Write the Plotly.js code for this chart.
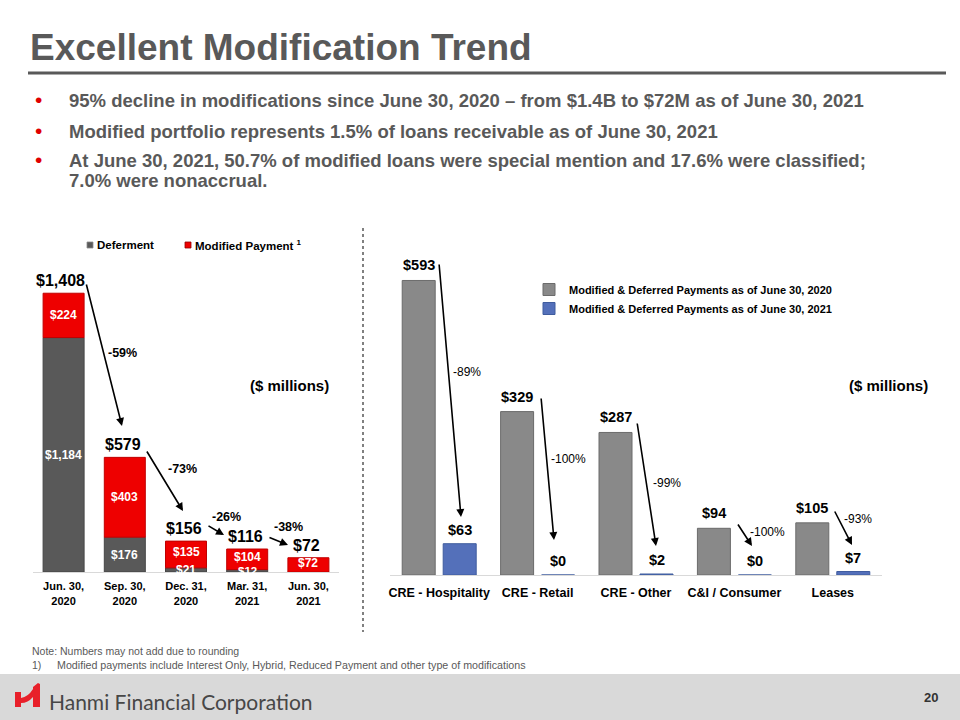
<!DOCTYPE html>
<html>
<head>
<meta charset="utf-8">
<script src="https://cdn.plot.ly/plotly-3.0.1.min.js"></script>
<style>
html,body{margin:0;padding:0;background:#fff;}
#chart{width:960px;height:720px;}
</style>
</head>
<body>
<div id="chart"></div>
<script>
// ---------- data ----------
const periods = ['Jun. 30,<br>2020', 'Sep. 30,<br>2020', 'Dec. 31,<br>2020', 'Mar. 31,<br>2021', 'Jun. 30,<br>2021'];
const deferment = [1184, 176, 21, 12, 0];
const modifiedPayment = [224, 403, 135, 104, 72];
const periodTotals = [1408, 579, 156, 116, 72];
const periodChanges = ['-59%', '-73%', '-26%', '-38%'];

const segments = ['CRE - Hospitality', 'CRE - Retail', 'CRE - Other', 'C&I / Consumer', 'Leases'];
const balance2020 = [593, 329, 287, 94, 105];
const balance2021 = [63, 0, 2, 0, 7];
const segmentChanges = ['-89%', '-100%', '-99%', '-100%', '-93%'];

const bullets = [
  '95% decline in modifications since June 30, 2020 \u2013 from $1.4B to $72M as of June 30, 2021',
  'Modified portfolio represents 1.5% of loans receivable as of June 30, 2021',
  'At June 30, 2021, 50.7% of modified loans were special mention and 17.6% were classified;<br>7.0% were nonaccrual.'
];

// ---------- helpers ----------
const W = 960, H = 720;
const X = p => p / W;
const Y = p => 1 - p / H;
const FONT = 'Liberation Sans, Arial, sans-serif';
const fmt = v => '$' + v.toLocaleString('en-US');

const GRAY_L = '#595959', RED = '#EE0000', GRAY_R = '#898989', BLUE = '#5470BA';

// ---------- traces ----------
const traces = [
  {
    type: 'bar', x: periods, y: deferment, name: 'Deferment',
    xaxis: 'x', yaxis: 'y', width: 0.67, offset: -0.335,
    marker: {color: GRAY_L, line: {color: '#454545', width: 1}},
    showlegend: false, hoverinfo: 'skip'
  },
  {
    type: 'bar', x: periods, y: modifiedPayment, base: deferment, name: 'Modified Payment',
    xaxis: 'x', yaxis: 'y', width: 0.67, offset: -0.335,
    marker: {color: RED, line: {color: '#C00000', width: 1}},
    showlegend: false, hoverinfo: 'skip'
  },
  {
    type: 'bar', x: segments, y: balance2020, name: 'Modified & Deferred Payments as of June 30, 2020',
    xaxis: 'x2', yaxis: 'y2',
    marker: {color: GRAY_R, line: {color: '#6B6B6B', width: 1}},
    hoverinfo: 'skip'
  },
  {
    type: 'bar', x: segments, y: balance2021, name: 'Modified & Deferred Payments as of June 30, 2021',
    xaxis: 'x2', yaxis: 'y2',
    marker: {color: BLUE, line: {color: '#3F5C9E', width: 1}},
    hoverinfo: 'skip'
  }
];

// ---------- annotations ----------
const ann = [];
function note(x, y, text, size, o) {
  o = o || {};
  ann.push(Object.assign({
    xref: 'paper', yref: 'paper', x: X(x), y: Y(y), text: text, showarrow: false,
    xanchor: 'center', yanchor: 'middle'
  }, o, {font: Object.assign({family: FONT, size: size, color: '#000', weight: 'bold'}, o.font || {})}));
}
function arrow(x0, y0, x1, y1) {
  ann.push({
    xref: 'paper', yref: 'paper', x: X(x1), y: Y(y1), axref: 'pixel', ayref: 'pixel',
    ax: x0 - x1, ay: y0 - y1, text: '', showarrow: true,
    arrowhead: 2, arrowsize: 1, arrowwidth: 1.6, arrowcolor: '#000', standoff: 0
  });
}

// bullets (each line placed on its own row)
const bulletY = [101, 131, 160];
const lineStep = 20;
bullets.forEach((b, i) => {
  note(38, bulletY[i] - 1, '\u2022', 21, {font: {color: '#E00000', weight: 'normal'}});
  b.split('<br>').forEach((line, j) => {
    note(67, bulletY[i] + j * lineStep, line, 18.5, {xanchor: 'left', align: 'left', font: {color: '#595959'}});
  });
});

// left legend (custom)
note(95, 245, 'Deferment', 11.5, {xanchor: 'left'});
note(193, 245, 'Modified Payment <sup>1</sup>', 11.5, {xanchor: 'left'});

// ($ millions)
note(289, 385, '($ millions)', 15);
note(888, 385, '($ millions)', 15);

// left inside labels
periods.forEach((p, i) => {
  if (deferment[i] > 0) {
    ann.push({xref: 'x', yref: 'y', x: p, y: deferment[i] / 2, text: fmt(deferment[i]), showarrow: false,
      yshift: 0,
      font: {family: FONT, size: deferment[i] < 15 ? 11.5 : 12, color: '#fff', weight: 'bold'}});
  }
  ann.push({xref: 'x', yref: 'y', x: p, y: deferment[i] + modifiedPayment[i] / 2, text: fmt(modifiedPayment[i]),
    showarrow: false, yshift: modifiedPayment[i] < 150 ? 2 : 0,
    font: {family: FONT, size: 12, color: '#fff', weight: 'bold'}});
  ann.push({xref: 'x', yref: 'y', x: p, y: periodTotals[i], text: fmt(periodTotals[i]), showarrow: false,
    yanchor: 'bottom', yshift: 2, xshift: i === 0 ? -3 : -2,
    font: {family: FONT, size: 16, color: '#000', weight: 'bold'}});
});

// left change labels + arrows
const leftPct = [[123, 353], [182, 469], [226, 517], [288, 527]];
periodChanges.forEach((c, i) => note(leftPct[i][0], leftPct[i][1], c, 12.5));
arrow(86, 283, 122, 426);
arrow(146, 450, 183, 511);
arrow(207, 525, 224, 535);
arrow(268, 537, 288, 545);

// right value labels
segments.forEach((s, i) => {
  ann.push({xref: 'x2', yref: 'y2', x: s, y: balance2020[i], text: fmt(balance2020[i]), showarrow: false,
    yanchor: 'bottom', yshift: 5, xshift: -20.5,
    font: {family: FONT, size: 14.5, color: '#000', weight: 'bold'}});
  ann.push({xref: 'x2', yref: 'y2', x: s, y: balance2021[i], text: fmt(balance2021[i]), showarrow: false,
    yanchor: 'bottom', yshift: 4, xshift: 20.5,
    font: {family: FONT, size: 14.5, color: '#000', weight: 'bold'}});
});

// right change labels + arrows
const rightPct = [[467, 372], [568, 459], [667, 483], [767, 532], [858, 519]];
segmentChanges.forEach((c, i) => note(rightPct[i][0], rightPct[i][1], c, 12, {font: {weight: 'normal'}}));
arrow(439, 263, 461, 517);
arrow(541, 397, 554, 540);
arrow(637, 422, 656, 546);
arrow(737, 523, 752, 546);
arrow(834, 510, 852, 545);

// footnotes
note(30, 651, 'Note: Numbers may not add due to rounding', 10.5, {xanchor: 'left', font: {color: '#595959', weight: 'normal'}});
note(30, 665, '1)', 10.5, {xanchor: 'left', font: {color: '#595959', weight: 'normal'}});
note(55, 665, 'Modified payments include Interest Only, Hybrid, Reduced Payment and other type of modifications', 10.7,
  {xanchor: 'left', font: {color: '#595959', weight: 'normal'}});

// footer
note(47, 701, 'Hanmi Financial Corporation', 21, {xanchor: 'left', font: {family: 'Lato, Open Sans, sans-serif', color: '#474747', weight: 'normal'}});
note(931, 697, '20', 13, {font: {color: '#333'}});

// ---------- shapes ----------
function pathPx(cmds) {
  return cmds.replace(/(-?\d+(?:\.\d+)?),(-?\d+(?:\.\d+)?)/g, (m, a, b) => X(+a).toFixed(5) + ',' + Y(+b).toFixed(5));
}
const shapes = [
  {type: 'rect', xref: 'paper', yref: 'paper', x0: 0, x1: 1, y0: Y(720), y1: Y(674), fillcolor: '#D9D9D9', line: {width: 0}, layer: 'below'},
  {type: 'line', xref: 'paper', yref: 'paper', x0: X(28), x1: X(946), y0: Y(73), y1: Y(73), line: {color: '#595959', width: 3}},
  {type: 'line', xref: 'paper', yref: 'paper', x0: X(363), x1: X(363), y0: Y(228), y1: Y(632), line: {color: '#808080', width: 2, dash: 'dot'}},
  {type: 'rect', xref: 'paper', yref: 'paper', x0: X(87), x1: X(93), y0: Y(248), y1: Y(242), fillcolor: GRAY_L, line: {color: '#8a8a8a', width: 0.8}},
  {type: 'rect', xref: 'paper', yref: 'paper', x0: X(185), x1: X(191), y0: Y(248), y1: Y(242), fillcolor: RED, line: {color: '#900000', width: 0.8}},
  {type: 'path', xref: 'paper', yref: 'paper', fillcolor: '#E8202A', line: {width: 0},
    path: pathPx('M15,692 L21,692 L21,698 Q28,697 33,689 L33,687 L38,683 L40,684 L40,707 L33,707 L33,697 Q28,703 21,703 L21,707 L15,707 Z')}
];

// ---------- layout ----------
const layout = {
  width: W, height: H,
  margin: {l: 0, r: 0, t: 0, b: 0, pad: 0},
  paper_bgcolor: '#fff', plot_bgcolor: 'rgba(0,0,0,0)',
  font: {family: FONT, color: '#000'},
  title: {text: 'Excellent Modification Trend', x: X(30), xanchor: 'left', xref: 'paper',
    y: Y(47), yanchor: 'middle', yref: 'paper',
    font: {family: FONT, size: 37, color: '#595959', weight: 'bold'}},
  barmode: 'group', bargap: 0.167, bargroupgap: 0.195,
  showlegend: true,
  legend: {x: X(529), y: Y(275), xanchor: 'left', yanchor: 'top', orientation: 'v',
    bgcolor: 'rgba(0,0,0,0)', font: {family: FONT, size: 11, color: '#000', weight: 'bold'},
    itemclick: false, itemdoubleclick: false},
  xaxis: {domain: [X(33), X(339)], anchor: 'y', type: 'category', showline: true, linecolor: '#D9D9D9', linewidth: 1,
    ticks: 'outside', ticklen: 4, tickcolor: 'rgba(0,0,0,0)', showgrid: false, zeroline: false,
    tickfont: {family: FONT, size: 11, color: '#000', weight: 'bold'}, fixedrange: true},
  yaxis: {domain: [Y(572), Y(275)], anchor: 'x', range: [0, 1500], visible: false, fixedrange: true},
  xaxis2: {domain: [X(390), X(882)], anchor: 'y2', type: 'category', showline: true, linecolor: '#D9D9D9', linewidth: 1,
    ticks: 'outside', ticklen: 6, tickcolor: 'rgba(0,0,0,0)', showgrid: false, zeroline: false,
    tickfont: {family: FONT, size: 12.5, color: '#000', weight: 'bold'}, fixedrange: true},
  yaxis2: {domain: [Y(575), Y(277)], anchor: 'x2', range: [0, 600], visible: false, fixedrange: true},
  annotations: ann,
  shapes: shapes
};

Plotly.newPlot('chart', traces, layout, {displayModeBar: false, responsive: false});
</script>
</body>
</html>
